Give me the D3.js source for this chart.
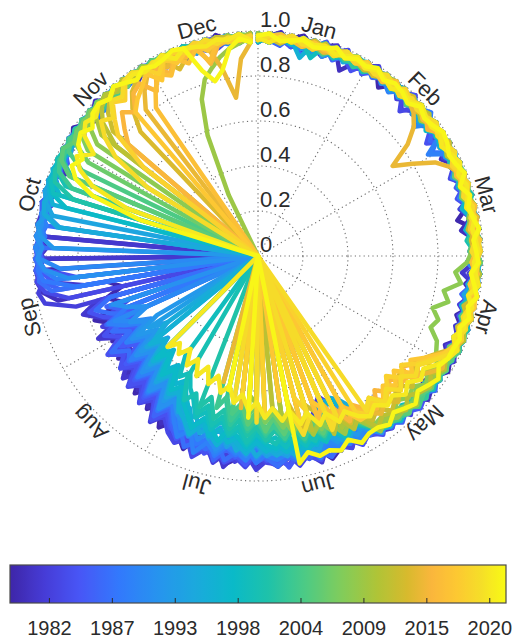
<!DOCTYPE html>
<html>
<head>
<meta charset="utf-8">
<script src="https://cdn.jsdelivr.net/npm/d3@7"></script>
<style>
  body { margin: 0; background: #fff; }
  svg { display: block; }
  text { font-family: "Liberation Sans", Arial, sans-serif; fill: #2b2b2b; }
</style>
</head>
<body>
<svg id="chart" width="514" height="641"></svg>
<script>
// Sea-ice concentration (%), one value every 3 days from 1 Jan (day 0, 3, 6, ... 363)
const sampleStep = 3;
const y1979 = [97,99,95,98,100,96,93,97,99,94, 96,98,92,97,99,95,97,91,96,98, 94,97,99,93,96,98,95,90,97,99, 96,93,98,95,99,97,92,96,98,94, 97,99,95,92,96,98,94,97,93,95, 91,94,88,93,96,90,92,87,91,94, 89,93,86,91,94,88,90,85,92,87, 83,88,79,84,76,82,74,80,71,77, 69,75,66,72,78,64,70,62,68,0, 96,99,0,97,99,96,98,95,99,97, 99,95,97,100,96,93,98,97,95,99, 96,98,94,97,99,95,98,96,100,97, 98,96];
const y1980 = [96,98,100,94,97,99,95,98,90,96, 99,97,94,98,96,100,93,97,99,95, 98,92,96,99,97,94,98,96,91,97, 99,95,97,93,98,96,99,94,97,92, 96,98,94,97,99,93,96,95,91,94, 93,89,95,91,87,93,90,94,88,92, 90,86,92,88,84,91,87,93,85,89, 81,86,77,83,73,80,70,78,68,75, 71,66,74,62,70,0,0,91,97,99, 96,98,94,99,97,95,98,96,99,93, 97,99,96,94,98,97,100,95,97,98, 94,97,99,96,98,93,97,99,96,98, 97,99];
const y1981 = [98,95,97,99,93,96,98,100,95,97, 94,98,96,99,97,91,95,98,96,99, 97,95,99,93,97,98,95,99,96,94, 98,96,91,97,99,95,98,93,96,97, 99,94,97,95,98,92,96,93,97,95, 92,95,90,94,89,96,91,93,88,92, 91,87,93,89,95,86,90,84,91,88, 85,80,86,76,82,78,73,81,75,70, 77,72,80,68,75,82,74,0,78,98, 99,97,0,96,99,98,95,97,99,96, 98,95,97,99,96,98,94,97,99,95, 97,99,96,93,98,97,95,99,98,96, 97,98];
const y1982 = [95,98,96,99,97,93,98,95,99,96, 97,100,95,98,93,97,99,96,94,98, 96,93,98,97,95,99,92,96,98,95, 97,99,94,98,96,92,97,95,99,93, 98,95,97,93,96,94,98,91,95,92, 88,82,74,68,72,79,86,92,89,94, 91,95,88,92,89,94,87,91,85,90, 86,82,88,78,84,74,81,70,77,66, 73,63,70,76,0,0,84,97,99,96, 98,95,99,97,96,98,94,99,97,95, 98,96,99,97,94,98,96,99,95,97, 99,96,98,95,97,99,96,94,98,97, 95,98];
const y1983 = [99,96,98,94,97,99,95,97,100,93, 96,98,95,99,97,90,98,96,99,94, 97,99,96,92,98,95,97,99,94,96, 98,95,99,97,93,96,98,94,97,99, 95,97,92,96,98,94,95,97,93,96, 94,90,95,92,88,94,91,95,89,93, 92,88,94,90,86,92,89,94,87,91, 88,83,86,79,84,77,82,74,79,71, 76,68,73,65,71,60,0,86,96,99, 97,98,95,99,96,98,97,94,99,96, 97,99,95,98,96,99,97,94,98,96, 99,97,95,98,96,99,97,98,94,97, 99,96];
const y1984 = [97,95,99,96,98,94,97,99,96,92, 98,96,99,94,97,100,95,98,96,90, 99,96,94,98,97,92,96,99,95,97, 94,98,96,99,95,97,93,98,96,99, 96,93,98,95,97,99,94,96,92,97, 93,96,91,94,90,95,92,89,94,91, 88,92,85,90,93,87,91,86,89,84, 86,81,87,77,83,75,81,72,79,74, 80,71,77,67,74,79,70,0,0,81, 95,98,99,97,96,98,95,99,97,98, 96,99,97,95,98,96,99,97,94,98, 97,95,99,96,98,97,94,98,99,96, 98,97];
const y1985 = [96,99,97,94,98,96,100,95,97,99, 93,97,99,96,98,94,97,95,99,96, 98,95,97,99,93,96,98,97,94,98, 96,99,95,97,98,93,97,99,96,95, 98,96,93,97,95,99,96,94,97,93, 92,95,89,94,91,87,93,90,95,88, 91,87,93,89,85,91,88,92,84,89, 85,79,84,75,81,72,78,69,76,66, 73,63,70,58,67,0,62,0,0,93, 97,99,96,98,97,95,99,96,98,97, 94,98,97,99,96,98,95,97,99,96, 98,96,94,98,97,99,96,98,95,97, 99,96];
const y1986 = [98,96,94,99,97,95,98,93,97,99, 96,98,95,97,99,94,96,98,97,92, 97,99,96,94,98,97,95,99,96,98, 95,97,99,96,92,98,96,94,97,99, 97,94,98,96,93,97,95,98,94,96, 91,94,88,92,95,89,93,87,91,93, 89,92,86,90,87,93,85,89,83,88, 84,78,85,74,80,71,77,67,74,63, 70,60,68,74,64,71,0,0,89,97, 99,96,98,97,95,98,99,96,97,95, 98,96,99,97,94,98,96,99,97,95, 96,99,97,95,98,96,99,97,96,98, 97,95];
const y1987 = [95,98,97,99,91,96,98,95,99,97, 98,94,97,96,99,95,98,93,96,98, 96,99,94,97,98,95,97,99,93,96, 99,96,97,94,98,96,99,95,97,94, 95,98,96,99,94,97,93,96,95,92, 94,90,93,89,95,91,88,93,90,94, 90,86,91,88,92,85,89,87,91,84, 83,77,82,73,79,70,76,67,74,71, 78,66,73,62,70,76,68,0,93,98, 97,99,96,0,98,97,95,99,96,98, 97,95,99,96,98,97,94,98,96,99, 97,98,95,97,99,96,98,94,97,98, 96,98];
const y1988 = [97,99,95,98,96,93,97,99,96,98, 95,97,99,94,98,96,97,100,95,97, 90,98,96,99,97,94,98,95,97,96, 99,94,97,96,98,93,97,99,95,98, 96,98,94,97,92,96,95,97,93,96, 91,88,93,90,86,92,89,93,87,90, 88,92,85,89,86,91,84,88,82,87, 80,75,82,71,78,68,76,64,72,61, 69,58,66,72,63,0,0,0,82,96, 98,97,99,95,98,96,97,99,96,98, 95,97,99,98,96,94,98,97,99,96, 98,97,95,99,96,98,97,94,98,99, 96,97];
const y1989 = [99,97,95,98,96,99,94,97,98,95, 97,99,96,93,98,97,95,99,96,98, 88,97,99,96,98,93,97,96,99,94, 97,99,95,98,96,97,94,98,96,99, 94,97,95,98,96,93,97,94,96,93, 92,95,89,93,90,94,88,92,89,91, 89,85,91,87,84,90,86,92,83,88, 82,76,80,72,78,69,75,65,73,62, 70,59,67,73,0,69,0,0,0,90, 96,98,97,99,95,98,96,97,99,96, 98,96,99,97,95,98,96,94,99,97, 96,98,97,99,95,97,98,96,99,97, 95,98];
const y1990 = [96,98,99,95,97,94,98,96,99,97, 94,98,96,97,99,95,97,90,98,96, 99,97,95,98,96,94,97,99,95,98, 96,93,98,97,95,99,96,97,94,98, 97,95,98,93,96,94,97,92,95,93, 90,93,87,91,88,92,86,90,87,89, 86,90,83,88,85,89,81,86,80,84, 78,72,79,68,75,65,72,61,69,58, 66,55,63,70,0,0,0,0,0,0, 88,97,99,96,98,97,95,99,96,98, 97,95,98,96,99,97,94,98,96,97, 99,96,98,95,97,99,96,98,97,95, 98,97];
const y1991 = [98,95,97,99,96,98,93,97,99,95, 97,99,94,98,96,95,99,97,94,98, 96,98,97,93,99,96,95,98,97,94, 98,96,99,95,97,94,98,96,99,97, 95,98,94,96,97,93,96,95,92,96, 91,87,92,88,85,91,87,92,86,89, 87,83,89,85,82,88,84,80,86,81, 79,74,81,70,77,66,73,63,70,59, 67,57,64,54,62,68,0,0,0,85, 95,98,96,99,97,98,95,97,99,96, 98,97,95,99,96,98,97,94,98,96, 97,99,96,98,95,97,99,96,98,97, 96,99];
const y1992 = [97,99,96,98,94,97,99,95,98,96, 99,96,98,95,97,99,93,97,96,98, 95,97,99,96,94,98,97,95,99,96, 97,95,98,99,96,93,97,98,95,97, 98,96,93,97,95,98,94,92,96,91, 88,91,86,90,84,89,86,91,85,88, 85,81,87,83,79,86,82,78,84,80, 76,70,77,66,73,62,70,58,67,55, 64,52,0,0,0,0,0,0,0,0, 0,0,91,97,99,96,98,97,95,99, 96,98,97,95,99,97,98,96,94,98, 97,99,96,98,97,95,99,96,98,97, 99,96];
const y1993 = [96,98,95,99,97,94,98,96,97,99, 95,97,98,94,99,96,97,95,98,96, 98,94,97,99,96,98,95,97,93,98, 96,99,97,95,98,96,94,99,97,95, 97,93,98,96,94,97,95,93,96,94, 86,78,72,70,75,81,88,85,90,87, 89,84,87,82,86,79,84,77,82,75, 72,66,74,62,69,58,66,54,62,50, 58,0,0,0,0,0,0,0,0,0, 0,0,0,0,89,96,98,97,99,96, 98,97,95,99,96,98,97,94,98,96, 99,97,95,98,96,99,97,98,95,97, 98,96];
const y1994 = [99,97,95,98,96,99,97,94,98,96, 97,95,99,97,94,98,96,99,95,97, 96,98,95,97,99,94,98,96,97,99, 95,97,98,96,93,98,97,95,99,96, 94,97,95,98,93,96,94,97,92,95, 90,87,92,88,85,91,87,84,89,86, 88,83,86,81,85,78,83,76,81,74, 78,70,75,65,72,61,68,57,64,0, 0,0,0,0,0,0,0,0,0,0, 0,0,0,0,0,93,97,99,98,96, 97,99,96,98,95,97,99,96,98,97, 95,98,97,99,96,98,94,97,99,96, 98,97];
const y1995 = [97,95,98,96,99,97,95,98,94,97, 99,96,98,95,97,99,96,93,98,97, 95,99,97,96,98,94,97,99,96,95, 98,96,99,94,97,98,95,97,96,99, 96,94,97,95,92,96,94,91,95,93, 80,73,70,76,83,88,86,91,87,89, 85,89,83,87,80,85,78,83,76,80, 74,68,71,63,67,59,64,55,60,52, 0,0,0,0,0,0,0,0,0,0, 0,0,0,0,90,97,98,96,99,97, 98,95,97,99,96,98,97,95,99,96, 97,99,96,98,95,97,98,96,99,97, 96,98];
const y1996 = [98,96,99,97,90,98,96,97,99,95, 96,98,97,99,95,97,94,98,96,99, 97,95,98,96,99,97,93,96,98,95, 99,97,95,98,96,94,98,97,95,98, 95,97,93,96,94,97,95,92,96,94, 89,85,90,86,83,88,85,89,84,87, 86,82,88,84,80,86,82,79,85,80, 77,70,73,65,70,60,66,55,62,0, 0,0,0,0,0,0,0,0,0,0, 0,0,0,0,0,0,94,97,99,98, 96,98,97,99,95,97,98,96,99,97, 98,95,97,99,96,98,97,95,98,99, 96,97];
const y1997 = [96,98,97,95,99,97,98,94,97,99, 98,95,97,99,96,98,94,97,99,96, 94,98,96,97,99,95,98,96,93,97, 97,99,96,98,95,97,99,94,98,96, 98,95,97,94,96,93,95,97,93,94, 84,76,71,74,80,86,89,85,88,84, 87,83,86,81,84,79,83,77,81,75, 70,64,68,60,65,56,62,0,0,0, 0,0,0,0,0,0,0,0,0,0, 0,0,0,0,0,0,0,92,97,99, 98,96,97,99,95,98,96,97,99,96, 98,97,95,99,96,98,97,99,96,98, 97,95];
const y1998 = [97,99,96,98,95,97,99,96,98,94, 98,96,99,97,95,98,96,97,93,98, 96,99,97,95,98,96,94,98,97,99, 95,97,99,96,98,93,97,96,99,97, 96,98,94,97,95,98,93,96,94,95, 88,84,89,85,82,87,83,88,82,86, 84,80,85,81,78,84,79,76,82,77, 73,67,71,62,68,58,64,0,0,0, 0,0,0,0,0,0,0,0,0,0, 0,0,0,0,0,0,88,96,98,97, 99,96,98,97,95,99,97,98,96,97, 95,98,97,99,96,98,97,95,99,96, 98,97];
const y1999 = [95,98,96,99,97,91,98,96,97,99, 96,98,95,97,99,96,94,98,97,95, 99,96,98,97,94,98,96,99,95,97, 98,95,97,99,96,98,94,97,96,98, 94,97,96,93,97,95,92,96,94,93, 89,86,90,84,88,83,87,82,86,81, 83,79,84,78,81,75,80,73,77,70, 66,60,64,55,0,0,0,0,0,0, 0,0,0,0,0,0,0,0,0,0, 0,0,0,0,0,0,0,95,98,97, 99,96,98,97,95,99,96,98,97,95, 98,96,99,97,98,95,97,99,96,98, 97,96];
const y2000 = [98,96,97,99,95,98,97,94,98,96, 97,99,96,98,95,97,99,96,94,98, 97,95,99,96,98,97,95,98,96,93, 96,98,97,95,99,96,98,94,97,99, 97,94,96,98,93,96,95,92,95,93, 87,83,88,84,80,86,82,85,79,84, 81,77,83,76,80,73,78,70,75,67, 72,63,0,0,0,0,0,0,0,0, 0,0,0,0,0,0,0,0,0,0, 0,0,0,0,0,0,0,0,91,97, 99,98,96,97,99,95,98,97,96,99, 97,95,98,96,99,97,98,96,95,98, 97,99];
const y2001 = [97,99,96,98,97,95,99,96,98,97, 94,98,96,99,97,95,98,97,99,96, 98,96,94,98,97,99,96,98,95,97, 99,96,98,95,97,98,96,99,94,97, 95,98,96,94,97,95,93,96,92,95, 89,84,87,82,86,80,85,79,83,78, 82,76,80,73,78,70,75,66,72,0, 0,0,0,0,0,0,0,0,0,0, 0,0,0,0,0,0,0,0,0,0, 0,0,0,0,0,0,0,86,96,98, 97,99,96,98,97,95,99,96,98,97, 99,96,98,95,97,99,97,98,96,97, 95,98];
const y2002 = [96,98,99,97,95,98,96,99,97,94, 98,97,95,99,96,98,97,94,98,96, 99,97,96,98,95,97,99,96,98,97, 95,98,96,99,97,94,98,96,97,99, 96,93,97,95,98,94,96,93,95,91, 86,82,87,81,85,78,83,77,82,75, 80,73,78,70,76,66,0,0,0,0, 0,0,0,0,0,0,0,0,0,0, 0,0,0,0,0,0,0,0,0,0, 0,0,0,0,0,0,0,0,0,90, 96,98,97,99,96,98,95,97,99,96, 98,97,99,96,98,95,97,98,96,99, 97,98];
const y2003 = [99,97,95,98,96,99,97,98,95,97, 96,99,97,95,98,96,99,97,94,98, 97,95,98,99,96,97,95,98,97,94, 98,96,99,97,95,98,96,97,99,95, 97,95,98,93,96,94,97,95,92,94, 88,83,86,80,85,79,84,77,82,76, 79,72,77,68,74,64,70,0,0,0, 0,0,0,0,0,0,0,0,0,0, 0,0,0,0,0,0,0,0,0,0, 0,0,0,0,0,0,0,0,88,96, 98,97,99,96,98,97,95,99,96,98, 97,96,98,99,95,97,98,96,99,97, 96,98];
const y2004 = [97,95,98,96,99,97,94,98,96,99, 95,97,98,96,99,94,97,98,96,97, 99,96,97,95,98,96,99,97,95,98, 97,99,95,98,96,97,94,98,99,96, 98,95,97,94,96,98,93,96,94,92, 85,80,86,79,83,77,81,75,80,73, 77,70,74,66,71,0,0,0,0,0, 0,0,0,0,0,0,0,0,0,0, 0,0,0,0,0,0,0,0,0,0, 0,0,0,0,0,0,0,0,0,0, 87,96,98,97,99,96,98,97,95,99, 96,98,97,99,95,98,97,96,99,97, 98,96];
const y2005 = [96,99,97,98,95,97,99,96,98,97, 99,96,98,95,97,99,97,94,98,96, 97,98,95,99,96,98,97,95,99,96, 94,98,97,99,96,98,95,97,96,99, 97,96,93,97,95,94,97,93,95,94, 87,82,85,79,84,76,82,74,80,72, 78,69,75,65,0,0,0,0,0,0, 0,0,0,0,0,0,0,0,0,0, 0,0,0,0,0,0,0,0,0,0, 0,0,0,0,0,0,0,0,0,91, 97,99,96,98,97,95,99,96,98,97, 98,96,99,97,95,98,97,99,96,98, 97,99];
const y2006 = [98,96,99,97,95,98,96,97,99,96, 97,95,98,99,96,97,95,98,97,99, 96,98,97,94,98,96,99,97,96,98, 99,97,96,98,95,97,99,96,98,94, 96,98,95,97,93,96,94,92,95,93, 84,79,83,77,81,74,79,72,77,69, 74,66,71,0,0,0,0,0,0,0, 0,0,0,0,0,0,0,0,0,0, 0,0,0,0,0,0,0,0,0,0, 0,0,0,0,0,0,0,0,0,0, 0,86,96,98,97,99,96,98,97,95, 99,97,96,98,99,97,95,98,96,97, 99,98];
const y2007 = [97,98,96,99,97,95,98,96,97,99, 96,97,99,95,98,96,99,97,95,98, 98,96,97,99,96,94,98,97,99,96, 97,99,95,98,96,97,99,95,97,98, 95,97,94,96,92,95,93,91,94,92, 85,80,84,78,82,0,79,73,77,70, 74,65,0,0,0,0,0,0,0,0, 0,0,0,0,0,0,0,0,0,0, 0,0,0,0,0,0,0,0,0,0, 0,0,0,0,0,0,0,0,0,0, 0,0,89,96,98,97,99,96,98,97, 95,98,96,99,97,98,96,97,99,98, 96,97];
const y2008 = [96,98,97,99,95,97,98,96,99,97, 98,95,97,99,96,98,97,95,98,96, 99,97,96,98,95,97,99,96,94,97, 95,93,88,91,84,87,81,85,83,88, 90,93,91,94,90,92,89,93,90,91, 84,87,80,85,78,83,75,80,72,0, 70,0,0,0,0,0,0,0,0,0, 0,0,0,0,0,0,0,0,0,0, 0,0,0,0,0,0,0,0,0,0, 0,0,0,0,0,0,0,0,0,0, 0,0,0,87,95,98,97,99,96,98, 97,99,96,98,95,97,99,96,98,97, 99,96];
const y2009 = [99,97,98,96,98,97,95,99,96,98, 97,96,98,99,95,97,98,96,99,97, 95,98,96,97,99,96,98,95,97,99, 97,95,98,96,99,97,95,98,96,97, 94,97,95,96,93,97,94,95,92,95, 87,83,88,81,0,79,75,0,73,68, 0,66,62,0,0,0,0,0,0,0, 0,0,0,0,0,0,0,0,0,0, 0,0,0,0,0,0,0,0,0,0, 0,0,0,0,0,0,0,0,0,0, 0,0,0,0,0,0,0,0,0,0, 0,0,0,30,58,74,82,86,90,93, 95,97];
const y2010 = [96,98,99,97,96,98,95,97,99,96, 98,97,95,99,96,98,97,94,98,96, 97,99,96,98,95,97,99,96,98,97, 99,96,97,95,98,96,99,97,95,98, 96,94,97,95,93,96,94,92,95,93, 86,81,85,0,79,83,0,76,71,0, 68,72,0,64,0,59,0,0,0,0, 0,0,0,0,0,0,0,0,0,0, 0,0,0,0,0,0,0,0,0,0, 0,0,0,0,0,0,0,0,0,0, 0,0,0,0,88,95,97,99,96,98, 97,95,98,96,99,97,98,96,97,99, 96,98];
const y2011 = [98,96,97,99,97,95,98,96,99,97, 96,99,97,95,98,96,97,99,95,98, 97,95,98,96,99,97,96,98,97,95, 98,96,99,97,95,98,96,97,99,96, 95,97,93,96,94,91,95,92,90,93, 84,88,80,86,0,81,76,71,0,67, 0,63,0,0,0,0,0,0,0,0, 0,0,0,0,0,0,0,0,0,0, 0,0,0,0,0,0,0,0,0,0, 0,0,0,0,0,0,0,0,0,0, 0,0,0,0,80,91,96,98,97,99, 96,98,97,95,99,96,98,97,96,98, 97,99];
const y2012 = [97,99,96,98,97,95,99,96,98,97, 95,98,97,99,96,98,95,97,99,96, 98,96,99,97,95,98,96,97,94,98, 97,95,98,96,99,94,97,95,98,96, 93,89,92,86,90,84,88,91,86,89, 83,78,0,0,74,69,0,63,0,0, 58,0,66,0,0,52,0,0,0,0, 0,0,0,0,0,0,0,0,0,0, 0,0,0,0,0,0,0,0,0,0, 0,0,0,0,0,0,0,0,0,0, 0,0,0,0,0,85,92,96,98,97, 95,98,96,99,97,98,96,97,99,98, 96,97];
const y2013 = [98,97,95,98,96,99,97,98,96,99, 97,95,98,96,97,99,95,98,97,96, 99,96,98,97,95,98,96,99,97,95, 96,98,97,95,99,96,98,94,97,96, 91,87,84,88,82,86,90,85,88,83, 80,85,77,0,0,72,80,66,0,0, 0,70,0,62,0,0,0,0,0,0, 0,0,0,0,0,0,0,0,0,0, 0,0,0,0,0,0,0,0,0,0, 0,0,0,0,0,0,0,0,0,0, 0,0,0,0,0,0,0,76,86,92, 95,97,93,96,90,94,97,95,98,96, 97,98];
const y2014 = [96,98,97,99,96,98,95,97,99,96, 98,96,97,95,99,96,94,90,83,72, 80,89,94,97,95,98,96,99,97,96, 98,95,97,99,96,98,97,95,98,97, 94,96,92,88,84,87,82,86,89,85, 84,76,81,0,70,0,0,0,0,0, 0,0,0,68,0,0,58,0,0,0, 0,0,0,0,0,0,0,0,0,0, 0,0,0,0,0,0,0,0,0,0, 0,0,0,0,0,0,0,0,0,0, 0,0,0,0,0,0,0,0,0,82, 89,94,96,93,97,95,98,96,85,71, 88,95];
const y2015 = [97,99,96,98,97,95,98,96,99,97, 96,98,97,99,95,98,96,97,94,98, 97,99,96,98,97,95,99,96,98,97, 95,98,96,97,99,96,98,95,97,96, 92,88,85,81,86,80,84,79,86,83, 78,84,75,81,0,72,0,68,0,0, 61,0,0,55,0,0,0,0,0,0, 0,0,0,0,0,0,0,0,0,0, 0,0,0,0,0,0,0,0,0,0, 0,0,0,0,0,0,0,0,0,0, 0,0,0,0,0,76,82,88,84,91, 93,86,95,90,96,94,98,88,95,97, 96,98];
const y2016 = [96,98,99,97,95,98,96,97,99,96, 98,97,95,99,96,97,98,95,97,99, 96,98,97,95,98,96,99,97,95,98, 97,95,98,96,99,97,96,98,94,97, 93,90,86,89,83,87,81,85,80,84, 81,77,82,71,78,0,68,0,0,0, 0,64,0,0,57,0,0,0,0,0, 0,0,0,0,0,0,0,0,0,0, 0,0,0,0,0,0,0,0,0,0, 0,0,0,0,0,0,0,0,0,0, 0,0,0,0,0,0,0,0,0,0, 80,87,92,89,95,91,96,89,97,96, 98,97];
const y2017 = [98,96,97,99,96,98,97,95,98,96, 99,97,96,98,95,97,99,96,98,97, 95,98,96,99,97,96,98,97,95,99, 96,98,97,95,98,99,96,97,95,98, 92,87,82,86,79,84,80,85,82,86, 86,79,0,74,69,0,77,0,65,0, 0,0,59,0,0,0,0,0,0,0, 0,0,0,0,0,0,0,0,0,0, 0,0,0,0,0,0,0,0,0,0, 0,0,0,0,0,0,0,0,0,0, 0,0,0,0,0,0,0,0,84,88, 91,95,89,97,93,96,98,94,97,96, 98,96];
const y2018 = [97,98,96,99,97,95,98,97,99,96, 98,96,97,95,99,97,98,96,97,99, 96,98,95,97,99,96,98,97,96,98, 99,97,95,98,96,97,99,96,98,95, 93,89,85,80,84,78,83,87,81,86, 82,0,77,83,0,72,65,0,0,0, 71,0,0,63,0,0,0,0,0,0, 0,0,0,0,0,0,0,0,0,0, 0,0,0,0,0,0,0,0,0,0, 0,0,0,0,0,0,0,0,0,0, 0,0,0,0,64,82,88,94,91,97, 95,98,92,97,98,96,99,97,98,96, 97,98];
const y2019 = [96,98,97,99,96,97,98,95,99,97, 98,96,99,97,95,98,96,97,99,96, 97,99,96,98,97,95,98,96,99,97, 95,98,97,96,99,97,95,98,96,98, 94,90,86,88,83,87,82,86,80,84, 0,0,79,84,0,76,82,70,0,0, 0,74,0,0,66,0,0,0,0,0, 0,0,0,0,0,0,0,0,0,0, 0,0,0,0,0,0,0,0,0,0, 0,0,0,0,0,0,0,0,0,0, 0,0,58,77,86,92,89,95,93,98, 99,96,98,97,95,98,97,99,96,98, 97,96];
const y2020 = [97,95,98,96,99,97,98,96,97,99, 96,98,97,95,98,96,99,97,96,98, 95,97,99,96,98,97,95,98,96,97, 98,96,97,99,95,98,96,97,94,98, 96,93,89,91,87,90,86,88,84,87, 84,79,82,76,80,73,77,70,74,68, 72,65,69,62,66,59,63,56,61,54, 60,53,58,51,56,52,57,0,0,0, 0,0,0,0,0,0,0,0,0,0, 0,0,0,0,0,0,0,0,62,80, 88,92,86,94,97,95,98,96,99,97, 98,96,97,99,95,98,97,96,98,97, 99,96];
const y2021 = [98,99,96,97,98,96,97,99,96,98, 97,99,96,98,97,95,98,96,97,99, 98,96,97,99,95,98,96,97,99,96, 97,98,95,97,99,96,98,95,97,96, 96,94,97,95,93,96,94,92,95,93, 93,95,91,94,92,93,90,94,0,0, 0,0,72,0,0,61,0,0,0,0, 0,0,0,0,0,0,0,0,0,0, 0,0,0,0,0,0,0,0,0,0, 0,0,0,0,0,0,0,55,78,88, 92,89,94,96,93,97,98,96,99,97, 95,98,96,97,99,98,86,80,84,93, 97,95];

const years = [1979,1980,1981,1982,1983,1984,1985,1986,1987,1988,1989,1990,1991,1992,1993,1994,1995,1996,1997,1998,1999,2000,2001,2002,2003,2004,2005,2006,2007,2008,2009,2010,2011,2012,2013,2014,2015,2016,2017,2018,2019,2020,2021];
const yearSeries = [y1979,y1980,y1981,y1982,y1983,y1984,y1985,y1986,y1987,y1988,y1989,y1990,y1991,y1992,y1993,y1994,y1995,y1996,y1997,y1998,y1999,y2000,y2001,y2002,y2003,y2004,y2005,y2006,y2007,y2008,y2009,y2010,y2011,y2012,y2013,y2014,y2015,y2016,y2017,y2018,y2019,y2020,y2021];

// Axis ticks and labels
const rTicks = [0, 20, 40, 60, 80, 100];
const rTickLabels = ["0", "0.2", "0.4", "0.6", "0.8", "1.0"];
const thetaGridDeg = [0, 30, 60, 90, 120, 150, 180, 210, 240, 270, 300, 330];
const monthNames = ["Jan","Feb","Mar","Apr","May","Jun","Jul","Aug","Sep","Oct","Nov","Dec"];
const monthLabelDeg = [15, 45, 75, 105, 135, 165, 195, 225, 255, 285, 315, 345];
const cbTicks = [1982, 1987.43, 1992.86, 1998.29, 2003.71, 2009.14, 2014.57, 2020];
const cbTickLabels = ["1982","1987","1993","1998","2004","2009","2015","2020"];
const cbDomain = [1978.6, 2021.4];

// Parula-like colour ramp
const parulaPos = [0, 0.07, 0.14, 0.22, 0.30, 0.37, 0.45, 0.52, 0.60, 0.67, 0.74, 0.80, 0.85, 0.90, 0.95, 1];
const parulaRgb = ["rgb(62,38,168)","rgb(70,60,215)","rgb(72,86,246)","rgb(50,121,252)","rgb(38,148,238)","rgb(28,168,222)","rgb(10,186,200)","rgb(30,194,170)","rgb(80,203,130)","rgb(130,204,90)","rgb(175,196,55)","rgb(215,186,45)","rgb(250,182,60)","rgb(253,200,50)","rgb(245,222,40)","rgb(249,251,20)"];
const parula = d3.scaleLinear().domain(parulaPos).range(parulaRgb).interpolate(d3.interpolateRgb).clamp(true);
const yearToT = d3.scaleLinear().domain(cbDomain).range([0, 1]);

const svg = d3.select("#chart");
const W = 514, H = 641;
svg.append("rect").attr("width", W).attr("height", H).attr("fill", "#fff");

const cx = 258, cy = 256, R = 225;
const angle = d3.scaleLinear().domain([0, 365]).range([0, 2 * Math.PI]);
const radius = d3.scaleLinear().domain([0, 100]).range([0, R]);

const g = svg.append("g").attr("transform", `translate(${cx},${cy})`);
const gridStyle = s => s.attr("fill", "none").attr("stroke", "#6e6e6e")
  .attr("stroke-width", 1.1).attr("stroke-dasharray", "1.2,3.2");

// grid circles
g.append("g").selectAll("circle").data(rTicks.filter(v => v > 0)).join("circle")
  .attr("r", d => radius(d)).call(gridStyle);
// angular grid lines
g.append("g").selectAll("line").data(thetaGridDeg).join("line")
  .attr("x1", 0).attr("y1", 0)
  .attr("x2", d => R * Math.sin(d * Math.PI / 180))
  .attr("y2", d => -R * Math.cos(d * Math.PI / 180))
  .call(gridStyle);

// radial tick labels
g.append("g").selectAll("text").data(rTicks).join("text")
  .attr("x", 2).attr("y", d => -radius(d) - 4)
  .attr("font-size", 22).text((d, i) => rTickLabels[i]);

// one line per year, drawn oldest first
const line = d3.lineRadial()
  .angle(d => angle(d.day))
  .radius(d => radius(d.v));
g.append("g").selectAll("path").data(years.map((y, k) => ({
    year: y,
    pts: yearSeries[k].map((v, i) => ({ day: i * sampleStep, v }))
  }))).join("path")
  .attr("d", d => line(d.pts))
  .attr("fill", "none")
  .attr("stroke", d => parula(yearToT(d.year)))
  .attr("stroke-width", 4.5)
  .attr("stroke-linejoin", "round")
  .attr("stroke-linecap", "round");

// month labels around the rim
const labelR = 237;
g.append("g").selectAll("text").data(monthNames).join("text")
  .attr("transform", (d, i) => `rotate(${monthLabelDeg[i]}) translate(0,${-labelR})`)
  .attr("text-anchor", "middle").attr("dy", "0.36em")
  .attr("font-size", 22).text(d => d);

// colour bar
const cbX = 10, cbY = 565, cbW = 496, cbH = 38;
const cbScale = d3.scaleLinear().domain(cbDomain).range([cbX, cbX + cbW]);
const grad = svg.append("defs").append("linearGradient").attr("id", "cbGrad")
  .attr("x1", "0%").attr("x2", "100%").attr("y1", "0%").attr("y2", "0%");
grad.selectAll("stop").data(d3.range(0, 1.0001, 0.01)).join("stop")
  .attr("offset", d => `${d * 100}%`).attr("stop-color", d => parula(d));
svg.append("rect").attr("x", cbX).attr("y", cbY).attr("width", cbW).attr("height", cbH)
  .attr("fill", "url(#cbGrad)").attr("stroke", "#4a4a4a").attr("stroke-width", 1.2);
svg.append("g").selectAll("line").data(cbTicks).join("line")
  .attr("x1", d => cbScale(d)).attr("x2", d => cbScale(d))
  .attr("y1", cbY + cbH).attr("y2", cbY + cbH - 5)
  .attr("stroke", "#2b2b2b").attr("stroke-width", 1);
svg.append("g").selectAll("text").data(cbTicks).join("text")
  .attr("x", d => cbScale(d)).attr("y", 635)
  .attr("text-anchor", "middle").attr("font-size", 20)
  .text((d, i) => cbTickLabels[i]);
</script>
</body>
</html>
